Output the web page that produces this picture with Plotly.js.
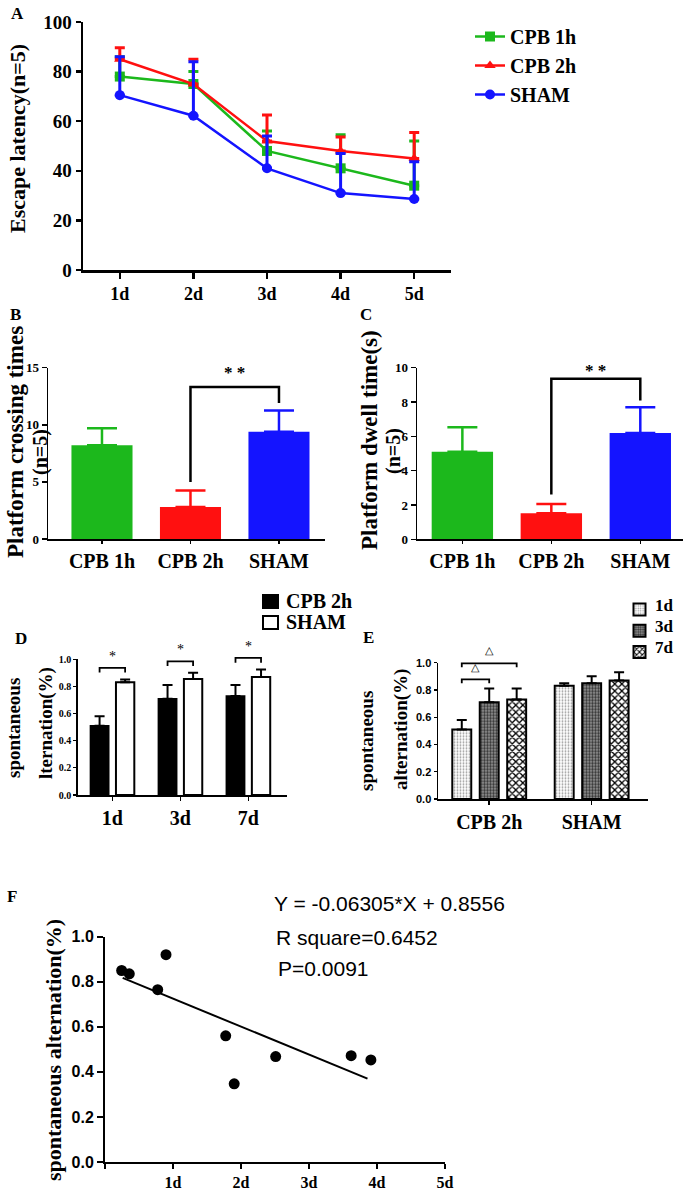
<!DOCTYPE html>
<html><head><meta charset="utf-8">
<script src="https://cdn.plot.ly/plotly-3.0.1.min.js"></script>
<style>html,body{margin:0;padding:0;background:#fff}#chart{width:685px;height:1192px}</style>
</head><body><div id="chart"></div>
<script>
// ---------- DATA ----------
// Panel A: escape latency
const daysA = ['1d','2d','3d','4d','5d'];
const aCPB1 = [78, 75, 48, 41, 34];
const aCPB1Err = [8, 5, 8, 13.5, 18];
const aCPB2 = [85, 75, 52, 48, 45];
const aCPB2Err = [4.6, 10, 10.5, 5.6, 10.4];
const aSHAM = [70.5, 62.2, 41, 31, 28.6];
const aSHAMErr = [15.5, 21.8, 13, 16, 15];
// Panel B: platform crossing times
const groups = ['CPB 1h','CPB 2h','SHAM'];
const bMean = [8.2, 2.8, 9.4];
const bErr = [1.5, 1.45, 1.85];
// Panel C: platform dwell time
const cMean = [5.1, 1.52, 6.2];
const cErr = [1.43, 0.54, 1.49];
// Panel D: spontaneous alternation by day
const daysD = ['1d','3d','7d'];
const dNames = ['CPB 2h','SHAM'];
const dCPB2 = [0.51, 0.71, 0.73];
const dCPB2Err = [0.07, 0.10, 0.08];
const dSHAM = [0.83, 0.855, 0.87];
const dSHAMErr = [0.022, 0.045, 0.055];
// Panel E: spontaneous alternation by group
const groupsE = ['CPB 2h','SHAM'];
const eNames = ['1d','3d','7d'];
const e1d = [0.51, 0.83];  const e1dErr = [0.07, 0.02];
const e3d = [0.71, 0.85];  const e3dErr = [0.10, 0.05];
const e7d = [0.73, 0.87];  const e7dErr = [0.08, 0.06];
// Panel F: correlation
const fX = [0.245, 0.357, 0.775, 0.897, 1.775, 1.90, 2.51, 3.62, 3.91];
const fY = [0.85, 0.835, 0.765, 0.92, 0.56, 0.347, 0.468, 0.472, 0.453];
const fLineX = [0.26, 3.86];
const fLineY = [0.817, 0.37];
const fTicks = ['','1d','2d','3d','4d','5d'];
const fText = ['Y = -0.06305*X + 0.8556','R square=0.6452','P=0.0091'];

// ---------- HELPERS ----------
const W=685,H=1192;
const SERIF='"Liberation Serif", "Times New Roman", serif';
const SANS='"Liberation Sans", Arial, sans-serif';
const px=x=>x/W, py=y=>1-y/H;
const dom=(a,b)=>[a/W,b/W];
const vdom=(t,b)=>[1-b/H,1-t/H];
const sf=(s,w)=>({family:SERIF,size:s,color:'#000',weight:w||'bold'});
const GREEN='#1cb81c', RED='#ff1010', BLUE='#1414ff';
const zeros=a=>a.map(()=>0);

const traces=[];
// A
const idxA = daysA.map((_,i)=>i+1);
function lineTrace(name,y,err,color,symbol){
  return {type:'scatter',mode:'lines+markers',x:idxA,y:y,name:name,xaxis:'x',yaxis:'y',
    line:{color:color,width:2.5},marker:{color:color,symbol:symbol,size:10},
    error_y:{type:'data',symmetric:false,array:err,arrayminus:zeros(err),color:color,thickness:3,width:5},
    legend:'legend',cliponaxis:false};
}
traces.push(lineTrace('CPB 1h',aCPB1,aCPB1Err,GREEN,'square'));
traces.push(lineTrace('CPB 2h',aCPB2,aCPB2Err,RED,'triangle-up'));
traces.push(lineTrace('SHAM',aSHAM,aSHAMErr,BLUE,'circle'));

// B & C
const cols=[GREEN,RED,BLUE];
function simpleBars(mean,err,xa,ya){
  groups.forEach((g,i)=>{
    traces.push({type:'bar',x:[i],y:[mean[i]],xaxis:xa,yaxis:ya,width:0.69,name:g,
      marker:{color:cols[i],line:{width:0}},showlegend:false,
      error_y:{type:'data',symmetric:false,array:[err[i]],arrayminus:[0],color:cols[i],thickness:2.5,width:15}});
  });
}
simpleBars(bMean,bErr,'x2','y2');
simpleBars(cMean,cErr,'x3','y3');

// D
const dW=0.27, dS=0.188;
const idxD=daysD.map((_,i)=>i);
traces.push({type:'bar',name:dNames[0],x:idxD,y:dCPB2,xaxis:'x4',yaxis:'y4',width:dW,offset:-dS-dW/2,
  marker:{color:'#000',line:{color:'#000',width:1.5}},showlegend:false,
  error_y:{type:'data',symmetric:false,array:dCPB2Err,arrayminus:zeros(dCPB2Err),color:'#000',thickness:2,width:5}});
traces.push({type:'bar',name:dNames[1],x:idxD,y:dSHAM,xaxis:'x4',yaxis:'y4',width:dW,offset:dS-dW/2,
  marker:{color:'#fff',line:{color:'#000',width:2}},showlegend:false,
  error_y:{type:'data',symmetric:false,array:dSHAMErr,arrayminus:zeros(dSHAMErr),color:'#000',thickness:2,width:5}});

// E
const eW=0.185, eS=0.268;
const idxE=groupsE.map((_,i)=>i);
const eSeries=[
  {y:e1d,err:e1dErr,off:-eS,pat:{shape:'.',fgcolor:'#9a9a9a',bgcolor:'#fff',size:3,solidity:0.3,fillmode:'replace'}},
  {y:e3d,err:e3dErr,off:0,pat:{shape:'.',fgcolor:'#333',bgcolor:'#9a9a9a',size:3,solidity:0.5,fillmode:'replace'}},
  {y:e7d,err:e7dErr,off:eS,pat:{shape:'x',fgcolor:'#000',bgcolor:'#fff',size:5,solidity:0.45,fillmode:'replace'}}
];
eSeries.forEach((s,k)=>{
  traces.push({type:'bar',name:'',x:idxE,y:s.y,xaxis:'x5',yaxis:'y5',width:eW,offset:s.off-eW/2,
    marker:{color:'#fff',line:{color:'#000',width:2},pattern:s.pat},legend:'legend3',
    error_y:{type:'data',symmetric:false,array:s.err,arrayminus:zeros(s.err),color:'#000',thickness:2,width:5}});
});

// F
traces.push({type:'scatter',mode:'markers',x:fX,y:fY,xaxis:'x6',yaxis:'y6',showlegend:false,
  marker:{color:'#000',size:11},cliponaxis:false});
traces.push({type:'scatter',mode:'lines',x:fLineX,y:fLineY,xaxis:'x6',yaxis:'y6',showlegend:false,
  line:{color:'#000',width:2}});

// ---------- SHAPES / ANNOTATIONS ----------
const shapes=[], ann=[];
function bracket(xa,ya,x1,x2,yL,yT,yR,w){
  shapes.push({type:'path',xref:xa,yref:ya,path:`M ${x1},${yL} L ${x1},${yT} L ${x2},${yT} L ${x2},${yR}`,
    line:{color:'#000',width:w||2.5}});
}
// B
bracket('x2','y2',1,2,bMean[1]+bErr[1]+0.75,13.3,bMean[2]+bErr[2]+0.65);
ann.push({xref:'x2',yref:'y2',x:1.5,y:14.6,text:'* *',showarrow:false,font:sf(17)});
// C
bracket('x3','y3',1,2,cMean[1]+cErr[1]+0.55,9.35,cMean[2]+cErr[2]+0.4);
ann.push({xref:'x3',yref:'y3',x:1.5,y:9.85,text:'* *',showarrow:false,font:sf(17)});
// D (y range [0,1] so domain fraction == value)
idxD.forEach(i=>{
  const top=Math.max(dSHAM[i]+dSHAMErr[i],dCPB2[i]+dCPB2Err[i])+0.085;
  bracket('x4','y4 domain',i-dS,i+dS,top-0.035,top,top-0.035,1.8);
  ann.push({xref:'x4',yref:'y4 domain',x:i,y:top+0.085,text:'*',showarrow:false,yanchor:'middle',font:sf(14,'normal')});
});
// E
bracket('x5','y5 domain',-eS,0,0.85,0.878,0.85,1.8);
ann.push({xref:'x5',yref:'y5 domain',x:-eS/2,y:0.97,text:'△',showarrow:false,yanchor:'middle',font:{family:SANS,size:11,color:'#000'}});
bracket('x5','y5 domain',-eS,eS,0.966,0.995,0.966,1.8);
ann.push({xref:'x5',yref:'y5 domain',x:0,y:1.09,text:'△',showarrow:false,yanchor:'middle',font:{family:SANS,size:11,color:'#000'}});

// titles & labels
function rot(x,y,text,size){ann.push({xref:'paper',yref:'paper',x:px(x),y:py(y),text:text,textangle:-90,showarrow:false,xanchor:'center',yanchor:'middle',font:sf(size)});}
function lab(x,y,text,size,anchor){ann.push({xref:'paper',yref:'paper',x:px(x),y:py(y),text:text,showarrow:false,xanchor:anchor||'center',yanchor:'middle',font:sf(size)});}
rot(18,139,'Escape latency(n=5)',22);
rot(15,442,'Platform crossing times',23);
rot(41,452,'(n=5)',20);
rot(369,440,'Platform dwell time(s)',23);
rot(393,451,'(n=5)',20);
rot(13,728,'spontaneous',19);
rot(46,723,'lternation(%)',19);
rot(367,741,'spontaneous',19);
rot(401,730,'alternation(%)',19);
rot(53,1050,'spontaneous alternation(%)',22);
lab(17,13,'A',17); lab(15,314,'B',17); lab(366,314,'C',17);
lab(21,638,'D',17); lab(368,637,'E',17); lab(12,896,'F',17);
// D legend (manual squares + text)
const dLegY=[601.5,622.5];
dNames.forEach((n,i)=>{
  shapes.push({type:'rect',xref:'paper',yref:'paper',x0:px(263),x1:px(278),y0:py(dLegY[i]-6.5),y1:py(dLegY[i]+6.5),
    fillcolor:i===0?'#000':'#fff',line:{color:'#000',width:2}});
  lab(284,dLegY[i]-1,n,20,'left');
});
// E legend text (swatches come from legend3)
const eLegY=[605,626,647];
eNames.forEach((n,i)=>lab(653,eLegY[i],n,17,'left'));
// F text
fText.forEach((t,i)=>{
  ann.push({xref:'paper',yref:'paper',x:px([272,274,276][i]),y:py([903,937,968][i]),text:t,showarrow:false,
    xanchor:'left',yanchor:'middle',font:{family:SANS,size:21,color:'#000'}});
});

// ---------- AXES ----------
function ax(o){return Object.assign({showline:true,linecolor:'#000',ticks:'outside',tickcolor:'#000',
  showgrid:false,zeroline:false,fixedrange:true},o);}
const layout={
  width:W,height:H,margin:{l:0,r:0,t:0,b:0},paper_bgcolor:'#fff',plot_bgcolor:'rgba(0,0,0,0)',
  barmode:'overlay',showlegend:true,
  xaxis:ax({domain:dom(83,451),range:[0.5,5.5],tickvals:idxA,ticktext:daysA,anchor:'y',linewidth:2.5,tickwidth:2.5,ticklen:6,tickfont:sf(18)}),
  yaxis:ax({domain:vdom(22,270),range:[0,100],dtick:20,anchor:'x',linewidth:2.5,tickwidth:2.5,ticklen:5,tickfont:sf(19)}),
  xaxis2:ax({domain:dom(48,325),range:[-0.61,2.52],tickvals:[0,1,2],ticktext:groups,anchor:'y2',linewidth:1.5,tickwidth:1.5,ticklen:3,tickfont:sf(20)}),
  yaxis2:ax({domain:vdom(367.7,539),range:[0,15],dtick:5,anchor:'x2',linewidth:1.5,tickwidth:1.5,ticklen:5,tickfont:sf(13)}),
  xaxis3:ax({domain:dom(417,683),range:[-0.51,2.48],tickvals:[0,1,2],ticktext:groups,anchor:'y3',linewidth:1.5,tickwidth:1.5,ticklen:3,tickfont:sf(20)}),
  yaxis3:ax({domain:vdom(367.7,539.3),range:[0,10],dtick:2,anchor:'x3',linewidth:1.5,tickwidth:1.5,ticklen:5,tickfont:sf(13)}),
  xaxis4:ax({domain:dom(77.7,287),range:[-0.51,2.57],tickvals:idxD,ticktext:daysD,anchor:'y4',linewidth:1.5,tickwidth:1.5,ticklen:4,tickfont:sf(20)}),
  yaxis4:ax({domain:vdom(659.3,795),range:[0,1],dtick:0.2,tickformat:'.1f',anchor:'x4',linewidth:1.5,tickwidth:1.2,ticklen:3,tickfont:sf(10)}),
  xaxis5:ax({domain:dom(438,648),range:[-0.5,1.55],tickvals:idxE,ticktext:groupsE,anchor:'y5',linewidth:1.5,tickwidth:1.5,ticklen:4,tickfont:sf(20)}),
  yaxis5:ax({domain:vdom(662.7,799),range:[0,1],dtick:0.2,tickformat:'.1f',anchor:'x5',linewidth:1.5,tickwidth:1.2,ticklen:3,tickfont:{family:SANS,size:11,color:'#000',weight:'bold'}}),
  xaxis6:ax({domain:dom(105,445),range:[0,5],tickvals:[0,1,2,3,4,5],ticktext:fTicks,anchor:'y6',linewidth:2,tickwidth:2,ticklen:5,tickfont:sf(16)}),
  yaxis6:ax({domain:vdom(936.7,1162),range:[0,1],dtick:0.2,tickformat:'.1f',anchor:'x6',linewidth:2,tickwidth:2,ticklen:6,tickfont:{family:SANS,size:16,color:'#000',weight:'bold'}}),
  legend:{x:px(470),y:py(17),xanchor:'left',yanchor:'top',bgcolor:'rgba(0,0,0,0)',font:sf(20),itemwidth:30},
  legend3:{x:px(619.5),y:py(594),xanchor:'left',yanchor:'top',bgcolor:'rgba(0,0,0,0)',font:sf(14),itemwidth:30},
  shapes:shapes,annotations:ann
};
Plotly.newPlot('chart',traces,layout,{staticPlot:true,displayModeBar:false});
</script></body></html>
